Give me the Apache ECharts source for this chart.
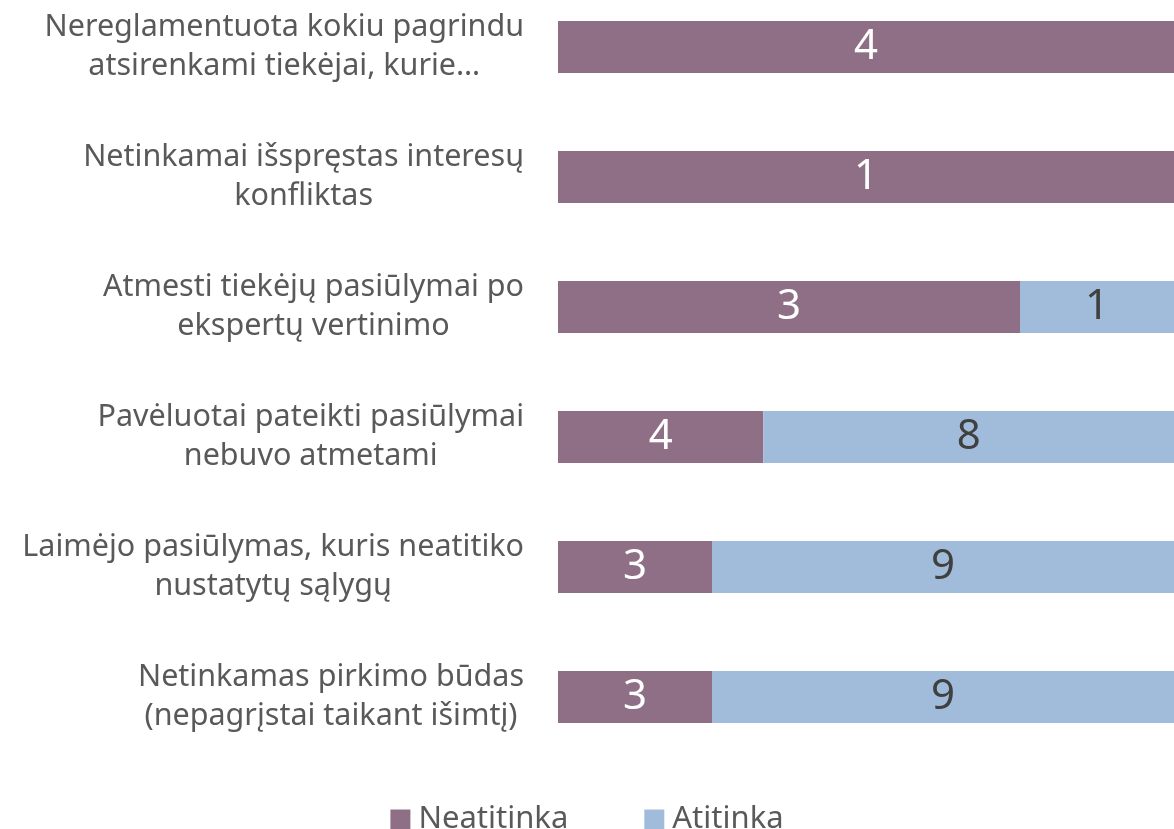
<!DOCTYPE html>
<html>
<head>
<meta charset="utf-8">
<script src="https://cdn.jsdelivr.net/npm/echarts@6/dist/echarts.min.js"></script>
<style>
  html, body { margin: 0; padding: 0; background: #fff; overflow: hidden; }
  #chart { position: absolute; left: 0; top: -18px; width: 1174px; height: 847px; }
</style>
</head>
<body>
<div id="chart"></div>
<script>
// kategorijos (iš viršaus į apačią)
const categories = [
  'Nereglamentuota kokiu pagrindu\natsirenkami tiekėjai, kurie…',
  'Netinkamai išspręstas interesų\nkonfliktas',
  'Atmesti tiekėjų pasiūlymai po\nekspertų vertinimo',
  'Pavėluotai pateikti pasiūlymai\nnebuvo atmetami',
  'Laimėjo pasiūlymas, kuris neatitiko\nnustatytų sąlygų',
  'Netinkamas pirkimo būdas\n(nepagrįstai taikant išimtį)'
]
const neatitinka = [4, 1, 3, 4, 3, 3]
const atitinka = [0, 0, 1, 8, 9, 9]

const font = '"Noto Sans", sans-serif'

// 100% sukrautos juostos
const pct = (vals, i) => {
  const total = neatitinka[i] + atitinka[i]
  return vals[i] / total * 100
}
const mkData = (vals) => vals.map((v, i) => ({ value: pct(vals, i), raw: v }))

const chart = echarts.init(document.getElementById('chart'))
chart.setOption({
  animation: false,
  legend: {
    bottom: -11,
    left: 'center',
    itemWidth: 20,
    itemHeight: 20,
    itemGap: 76,
    icon: 'rect',
    textStyle: { fontFamily: font, fontSize: 31, color: '#595959', padding: [0, 0, 0, 3] },
    data: ['Neatitinka', 'Atitinka']
  },
  grid: { left: 558, right: 0, top: 0, height: 780 },
  xAxis: {
    type: 'value',
    min: 0,
    max: 100,
    show: false
  },
  yAxis: {
    type: 'category',
    inverse: true,
    data: categories,
    axisLine: { show: false },
    axisTick: { show: false },
    axisLabel: {
      margin: 34,
      align: 'right',
      formatter: (v) => v.split('\n').map(s => '{c|' + s + '}').join('\n'),
      rich: {
        c: { align: 'center', fontFamily: font, fontSize: 30.5, color: '#595959', lineHeight: 39 }
      }
    }
  },
  series: [
    {
      name: 'Neatitinka',
      type: 'bar',
      stack: 'all',
      barWidth: 52,
      itemStyle: { color: '#8E6F85' },
      label: {
        show: true,
        position: 'inside',
        fontFamily: font,
        fontSize: 42,
        color: '#ffffff',
        formatter: (p) => p.data.raw ? String(p.data.raw) : ''
      },
      data: mkData(neatitinka)
    },
    {
      name: 'Atitinka',
      type: 'bar',
      stack: 'all',
      barWidth: 52,
      itemStyle: { color: '#A1BCDB' },
      label: {
        show: true,
        position: 'inside',
        fontFamily: font,
        fontSize: 42,
        color: '#404040',
        formatter: (p) => p.data.raw ? String(p.data.raw) : ''
      },
      data: mkData(atitinka)
    }
  ]
})
</script>
</body>
</html>
